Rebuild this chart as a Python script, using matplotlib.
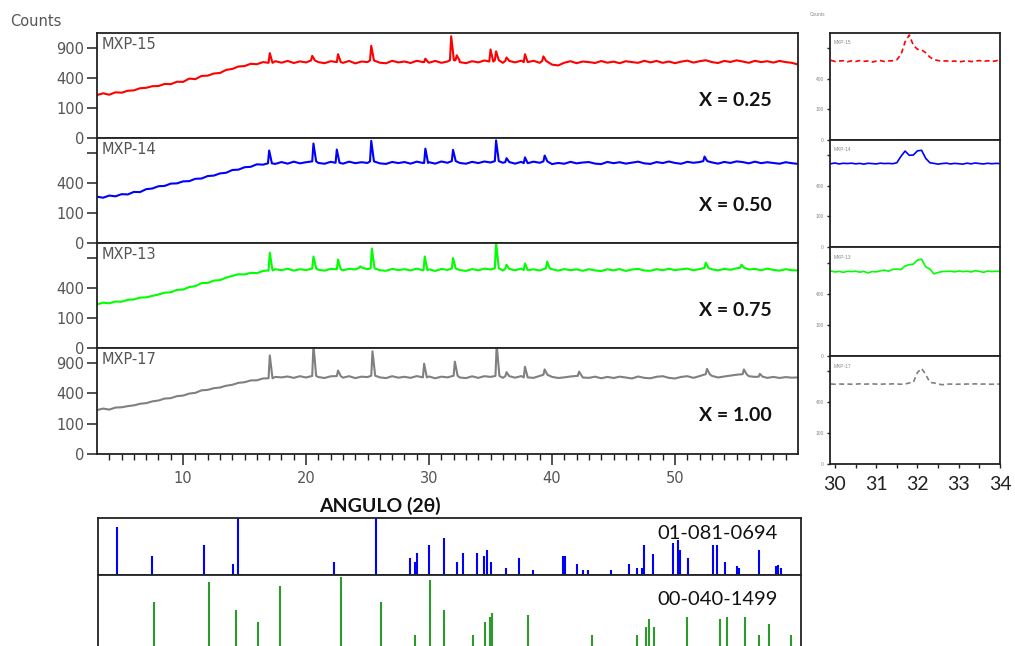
import numpy as np
import matplotlib
matplotlib.use("Agg")
import matplotlib.pyplot as plt

# Difractogramas (cuentas vs 2-theta) ==========================
grid = np.arange(3.0, 60.01, 0.5)   # paso de muestreo, grados

base_15 = [205, 222, 208, 232, 228, 248, 252, 275, 280, 298,
           300, 325, 322, 352, 350, 392, 385, 428, 432, 462,
           470, 515, 530, 568, 575, 612, 605, 640, 628, 655,
           630, 660, 625, 652, 635, 668, 640, 622, 655, 640,
           628, 660, 618, 650, 640, 668, 630, 620, 662, 635,
           650, 625, 662, 640, 630, 660, 628, 650, 672, 640,
           622, 655, 635, 668, 650, 672, 628, 660, 635, 665,
           640, 662, 628, 660, 598, 585, 630, 655, 622, 650,
           640, 625, 658, 630, 648, 622, 655, 640, 628, 662,
           635, 660, 628, 650, 622, 648, 665, 632, 655, 672,
           640, 625, 660, 642, 670, 650, 628, 662, 640, 655,
           632, 660, 640, 628, 600]
base_14 = [238, 228, 250, 242, 265, 262, 290, 288, 322, 330,
           358, 362, 392, 395, 422, 425, 458, 462, 498, 505,
           538, 548, 592, 598, 638, 645, 688, 682, 705, 695,
           728, 700, 735, 705, 725, 740, 712, 698, 732, 715,
           700, 735, 708, 725, 712, 740, 705, 695, 730, 710,
           728, 700, 735, 712, 725, 700, 738, 715, 745, 712,
           698, 732, 710, 738, 720, 745, 715, 728, 700, 732,
           708, 735, 715, 740, 692, 712, 698, 732, 705, 720,
           728, 700, 692, 730, 708, 725, 700, 718, 735, 705,
           695, 728, 710, 738, 712, 698, 732, 715, 728, 745,
           722, 700, 730, 712, 740, 728, 705, 735, 708, 725,
           712, 698, 725, 708, 695]
base_13 = [212, 228, 222, 240, 238, 258, 262, 282, 285, 302,
           318, 340, 345, 375, 380, 412, 425, 468, 470, 505,
           512, 550, 578, 605, 600, 628, 622, 660, 668, 690,
           672, 698, 665, 690, 675, 702, 680, 665, 695, 688,
           670, 698, 685, 712, 690, 705, 672, 662, 695, 675,
           690, 668, 700, 672, 688, 660, 695, 678, 702, 675,
           660, 692, 670, 700, 685, 705, 668, 695, 672, 700,
           675, 688, 668, 705, 690, 665, 692, 672, 688, 662,
           690, 668, 658, 688, 670, 692, 660, 685, 695, 668,
           662, 690, 672, 698, 675, 688, 700, 672, 692, 712,
           688, 670, 695, 680, 705, 715, 685, 695, 672, 700,
           678, 665, 690, 672, 668]
base_17 = [210, 225, 215, 235, 238, 250, 258, 275, 282, 302,
           312, 335, 340, 365, 372, 398, 408, 442, 448, 472,
           482, 508, 522, 552, 562, 590, 592, 622, 625, 648,
           640, 655, 632, 660, 638, 665, 645, 630, 658, 662,
           635, 660, 628, 652, 645, 668, 640, 628, 660, 635,
           650, 632, 662, 640, 655, 625, 652, 640, 668, 638,
           628, 658, 632, 660, 648, 665, 632, 660, 635, 662,
           640, 632, 665, 685, 648, 630, 640, 655, 665, 638,
           632, 652, 625, 648, 630, 652, 638, 622, 655, 632,
           625, 650, 660, 632, 622, 648, 660, 632, 662, 695,
           665, 638, 655, 670, 685, 695, 660, 648, 652, 632,
           648, 630, 645, 635, 640]

# picos: (2theta, cuentas en el maximo)
peaks_15 = [(17.05, 800), (20.5, 750), (22.6, 780), (25.3, 945), (29.7, 700),
            (31.8, 1150), (32.25, 760), (35.0, 870), (35.45, 835), (36.3, 720),
            (37.8, 780), (39.3, 740)]
peaks_14 = [(17.0, 950), (20.6, 1100), (22.5, 970), (25.3, 1160), (29.7, 990),
            (31.95, 965), (35.45, 1170), (36.3, 800), (37.8, 815), (39.4, 850),
            (52.4, 830)]
peaks_13 = [(17.05, 1010), (20.6, 930), (22.6, 870), (24.4, 740), (25.35, 1100),
            (29.65, 930), (31.95, 900), (35.45, 1240), (36.3, 770), (37.8, 795),
            (39.6, 830), (52.5, 810), (55.4, 770)]
peaks_17 = [(17.05, 1060), (20.6, 1300), (22.6, 760), (25.4, 1150), (29.6, 890),
            (32.1, 930), (35.5, 1300), (36.3, 730), (37.8, 830), (39.4, 780),
            (42.2, 740), (52.6, 790), (55.6, 780), (56.9, 700)]

samples = ["MXP-15", "MXP-14", "MXP-13", "MXP-17"]
x_labels = ["X = 0.25", "X = 0.50", "X = 0.75", "X = 1.00"]
colors = ["#ff0000", "#0000ff", "#00ff00", "#808080"]
bases = [base_15, base_14, base_13, base_17]
peaks = [peaks_15, peaks_14, peaks_13, peaks_17]

# zoom 30-34 grados
r_grid = np.round(np.arange(29.9, 34.05, 0.1), 2)
red_r = [680, 660, 668, 672, 655, 670, 660, 675, 662, 668,
         650, 665, 675, 660, 668, 672, 690, 780, 1030, 1180,
         960, 880, 868, 815, 735, 690, 676, 665, 670, 660,
         668, 652, 662, 672, 658, 665, 675, 660, 672, 662,
         668, 700]
blue_r = [742, 755, 738, 750, 745, 752, 740, 748, 735, 750,
          745, 738, 752, 745, 748, 742, 760, 880, 985, 900,
          905, 990, 1000, 840, 760, 748, 735, 745, 752, 738,
          748, 742, 735, 752, 740, 755, 745, 738, 750, 742,
          748, 745]
green_r = [745, 728, 738, 722, 740, 735, 742, 725, 738, 712,
           735, 730, 748, 760, 742, 775, 780, 770, 835, 860,
           870, 950, 965, 820, 780, 695, 720, 735, 738, 742,
           730, 745, 735, 742, 728, 750, 738, 722, 745, 735,
           740, 738]
gray_r = [672, 668, 672, 670, 672, 668, 670, 675, 668, 672,
          675, 670, 668, 672, 670, 675, 672, 668, 672, 690,
          700, 880, 960, 840, 700, 690, 672, 660, 668, 672,
          665, 670, 668, 672, 670, 675, 668, 672, 670, 668,
          672, 670]
zoom_series = [red_r, blue_r, green_r, gray_r]

# fichas de referencia: (2theta, intensidad relativa)
ref_0694 = [(4.52, 85), (7.37, 33), (11.62, 53), (13.95, 20), (14.33, 100),
            (22.13, 23), (25.55, 100), (28.31, 29), (28.72, 23), (28.85, 39),
            (29.8, 53), (31.02, 65), (32.1, 23), (32.56, 39), (33.73, 39),
            (34.27, 33), (34.54, 43), (34.87, 23), (36.09, 13), (37.17, 29),
            (38.28, 8), (40.7, 33), (40.85, 33), (41.8, 20), (42.35, 8),
            (42.76, 8), (44.57, 8), (46.06, 20), (46.74, 13), (47.07, 13),
            (47.28, 53), (47.96, 37), (49.64, 56), (49.99, 61), (50.18, 43),
            (50.86, 29), (52.89, 53), (53.16, 53), (53.87, 23), (54.79, 16),
            (54.95, 13), (56.63, 43), (57.98, 15), (58.12, 18), (58.39, 13)]
ref_1499 = [(7.5, 64), (12.0, 91), (14.19, 54), (15.98, 37), (17.74, 86),
            (22.7, 98), (25.95, 64), (28.72, 20), (29.94, 93), (31.02, 54),
            (33.37, 20), (34.4, 37), (34.81, 44), (34.95, 49), (37.88, 47),
            (43.02, 20), (46.74, 20), (47.41, 31), (47.68, 42), (48.09, 31),
            (50.74, 44), (53.43, 42), (54.0, 44), (55.49, 44), (56.58, 20),
            (57.39, 35), (59.2, 20)]


def profile(base, peak_list):
    # linea base + cada pico como un triangulo angosto
    keep = np.ones(len(grid), bool)
    extra_x, extra_y = [], []
    for pos, top in peak_list:
        foot = base[int(round((pos - 3.0) / 0.5))]
        keep &= ~((grid > pos - 0.1) & (grid < pos + 0.22))
        extra_x += [pos - 0.1, pos, pos + 0.22]
        extra_y += [foot, top, foot]
    x = np.concatenate([grid[keep], extra_x])
    y = np.concatenate([np.array(base)[keep], extra_y])
    order = np.argsort(x)
    return x[order], y[order]


def sqrt_axis(ax):
    ax.set_yscale("function", functions=(lambda v: np.sqrt(np.maximum(v, 0)),
                                         lambda v: np.square(v)))
    ax.set_ylim(0, 1225)


W, H = 1015, 646
fig = plt.figure(figsize=(W / 100, H / 100), dpi=100)
tick_font = dict(family="DejaVu Sans", size=10.5, color="#555555")
bold_font = ["Lato", "DejaVu Sans"]
edge = "#222222"


def add_box(l, t, r, b):
    a = fig.add_axes([l / W, 1 - b / H, (r - l) / W, (b - t) / H])
    for s in a.spines.values():
        s.set_color(edge)
        s.set_linewidth(1.3)
    return a


# paneles principales ==========================================
rows = [(33, 138), (138, 243), (243, 348), (348, 454)]
for k, (t, b) in enumerate(rows):
    ax = add_box(97, t, 798, b)
    xs, ys = profile(bases[k], peaks[k])
    ax.plot(xs, ys, color=colors[k], lw=1.5)
    sqrt_axis(ax)
    ax.set_xlim(3, 60)
    ax.set_yticks([0, 100, 400, 900])
    if k in (1, 2):
        ax.set_yticklabels(["0", "100", "400", ""])
    else:
        ax.set_yticklabels(["0", "100", "400", "900"])
    ax.tick_params(axis="y", length=7, width=1.1, color=edge, pad=2)
    for lab in ax.get_yticklabels():
        lab.set(**tick_font)
    ax.text(0.007, 0.965, samples[k], transform=ax.transAxes, ha="left", va="top",
            **tick_font)
    ax.text(0.963, 0.36, x_labels[k], transform=ax.transAxes, ha="right",
            va="center", family=bold_font, weight="bold", size=14, color="#111111")
    if k < 3:
        ax.set_xticks([])
    else:
        ax.set_xticks([10, 20, 30, 40, 50])
        ax.set_xticks(np.arange(4, 60, 1), minor=True)
        ax.tick_params(axis="x", which="major", length=8, width=1.1, color=edge, pad=4)
        ax.tick_params(axis="x", which="minor", length=4, width=1.0, color=edge)
        for lab in ax.get_xticklabels():
            lab.set(**tick_font)

fig.text(380 / W, 1 - 506 / H, "ANGULO (2θ)", ha="center", va="center",
         family=bold_font, weight="bold", size=14, color="#111111")
fig.text(10 / W, 1 - 22 / H, "Counts", ha="left", va="center", **tick_font)

# paneles de 30-34 grados =====================================
r_rows = [(33, 140), (140, 247), (247, 356), (356, 464)]
tiny = dict(family="Liberation Sans", size=3.5, color="#888888")
for k, (t, b) in enumerate(r_rows):
    ax = add_box(830, t, 1000, b)
    ls = (0, (3, 2)) if k in (0, 3) else "-"
    ax.plot(r_grid, zoom_series[k], color=colors[k], lw=1.2, linestyle=ls)
    sqrt_axis(ax)
    ax.set_xlim(29.88, 34)
    ax.set_yticks([0, 100, 400, 900])
    ax.set_yticklabels(["0", "100", "400", ""])
    ax.tick_params(axis="y", length=2.5, width=1.0, color=edge, pad=2)
    for lab in ax.get_yticklabels():
        lab.set(**tiny)
    ax.text(0.02, 0.93, samples[k], transform=ax.transAxes, ha="left", va="top",
            **tiny)
    if k < 3:
        ax.set_xticks([])
    else:
        ax.set_xticks([30, 31, 32, 33, 34])
        ax.set_xticks(np.arange(30.5, 34, 1), minor=True)
        ax.tick_params(axis="x", which="both", length=3, width=1.0, color=edge, pad=6)
        for lab in ax.get_xticklabels():
            lab.set(family=bold_font, size=14, color="#222222")

fig.text(818 / W, 1 - 15 / H, "Counts", ha="center", va="center", **tiny)

# fichas de referencia ========================================
ax = add_box(98, 518, 801, 575)
ax.vlines([p for p, _ in ref_0694], 0, [h for _, h in ref_0694], color="#0000ff", lw=1.5)
ax.set_xlim(3, 60)
ax.set_ylim(0, 100)
ax.set_xticks([])
ax.set_yticks([])
ax.text(0.967, 0.73, "01-081-0694", transform=ax.transAxes, ha="right", va="center",
        family=bold_font, size=14.5, color="#111111")

ax = add_box(98, 575, 801, 650)
ax.vlines([p for p, _ in ref_1499], 0, [h for _, h in ref_1499], color="#2e9a2e", lw=1.5)
ax.set_xlim(3, 60)
ax.set_ylim(0, 100)
ax.set_xticks([])
ax.set_yticks([])
ax.text(0.967, 0.67, "00-040-1499", transform=ax.transAxes, ha="right", va="center",
        family=bold_font, size=14.5, color="#111111")

fig.savefig("out.png", dpi=100)
